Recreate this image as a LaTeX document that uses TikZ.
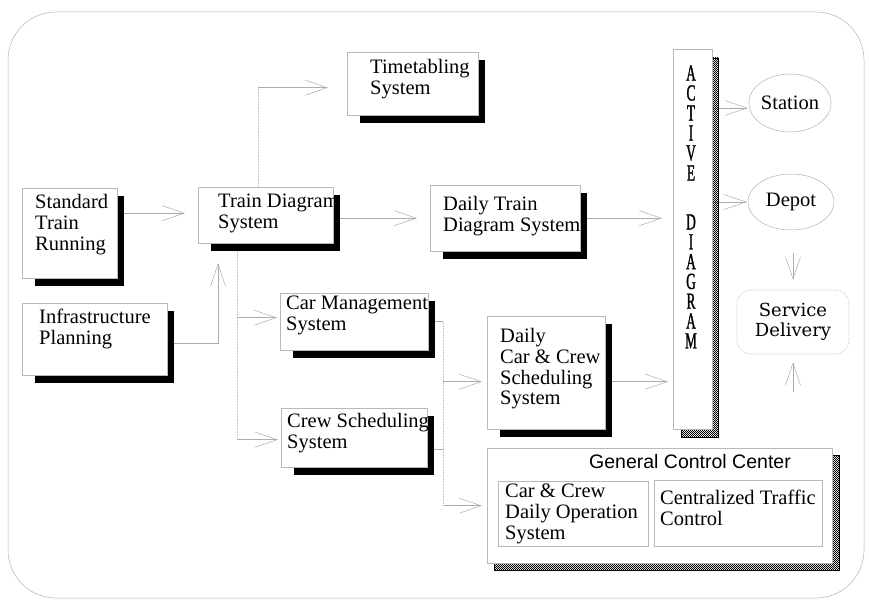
\documentclass[tikz,border=0pt]{standalone}
\usepackage{fontspec}
\setmainfont{Liberation Serif}
\newfontfamily\gccfont{Liberation Sans}
\newfontfamily\sdfont{DejaVu Serif}
\newfontfamily\actfont[FakeStretch=0.58,FakeBold=1.2]{Liberation Serif}
\usetikzlibrary{arrows.meta,patterns,patterns.meta,calc,shapes.geometric}
\pgfdeclarepattern{
  name=finechk,
  type=uncolored,
  bottom left={\pgfpoint{0pt}{0pt}},
  top right={\pgfpoint{2.4pt}{2.4pt}},
  tile size={\pgfpoint{2.4pt}{2.4pt}},
  code={
    \pgfpathrectangle{\pgfpoint{0pt}{0pt}}{\pgfpoint{1.2pt}{1.2pt}}
    \pgfpathrectangle{\pgfpoint{1.2pt}{1.2pt}}{\pgfpoint{1.2pt}{1.2pt}}
    \pgfusepath{fill}
  }
}
\pgfdeclarelayer{bg}
\pgfdeclarelayer{shd}
\pgfsetlayers{bg,shd,main}
\tikzset{
  sysbox/.style={draw=gray!55, line width=0.4pt, fill=white, inner sep=0pt, anchor=north west},
  shad/.style={fill=black},
  chk/.style={pattern=finechk, pattern color=black, draw=black, line width=0.5pt},
  lbl/.style={inner sep=0pt, anchor=north west, align=left, font=\fontsize{20.5}{20.8}\selectfont},
  conn/.style={draw=gray!65, line width=0.5pt, -{Straight Barb[length=22pt,width=15pt,line width=0.5pt]}},
  wire/.style={draw=gray!45, line width=0.5pt, densely dotted},
  oval/.style={ellipse, draw=gray!60, line width=0.5pt, inner sep=0pt, font=\fontsize{20.5}{20.8}\selectfont},
  actl/.style={inner sep=0pt, font=\actfont\fontsize{23}{20}\selectfont},
}
\newcommand\dropsh[1]{\fill[shad] ([shift={(13,8)}]#1.north west) rectangle ([shift={(7,8)}]#1.south east);}
\begin{document}
\begin{tikzpicture}[x=1pt,y=-1pt]
\useasboundingbox (0,0) rectangle (869,601);
\draw[gray!60, line width=0.5pt, rounded corners=48pt] (8,12) rectangle (864,598);
% system boxes
\node[sysbox, minimum width=131pt, minimum height=63pt] (tt) at (347,52) {};
\node[sysbox, minimum width=95pt, minimum height=90pt] (std) at (22,188) {};
\node[sysbox, minimum width=135pt, minimum height=56pt] (td) at (198,187) {};
\node[sysbox, minimum width=145pt, minimum height=72pt] (ip) at (22,303) {};
\node[sysbox, minimum width=150pt, minimum height=66pt] (dt) at (430,185) {};
\node[sysbox, minimum width=148pt, minimum height=57pt] (cm) at (280,293) {};
\node[sysbox, minimum width=146pt, minimum height=59pt] (cs) at (281,408) {};
\node[sysbox, minimum width=118pt, minimum height=113pt] (dcc) at (487,316) {};
\node[sysbox, minimum width=39pt, minimum height=380pt] (act) at (673,49) {};
\node[sysbox, minimum width=345pt, minimum height=115pt] (gcc) at (487,448) {};
\node[sysbox, minimum width=150pt, minimum height=65pt] (g1) at (498,481) {};
\node[sysbox, minimum width=168pt, minimum height=66pt] (g2) at (654,480) {};
% labels
\node[lbl] (tt-l) at (370,59) {Timetabling\\System};
\node[lbl] (std-l) at (35,194) {Standard\\Train\\Running};
\node[lbl] (td-l) at (218,194) {Train Diagram\\System};
\node[lbl] (ip-l) at (39,309) {Infrastructure\\Planning};
\node[lbl] (dt-l) at (443,196) {Daily Train\\Diagram System};
\node[lbl] (cm-l) at (286,296) {Car Management\\System};
\node[lbl] (cs-l) at (287,413) {Crew Scheduling\\System};
\node[lbl] (dcc-l) at (500,328) {Daily\\Car \& Crew\\Scheduling\\System};
\node[lbl] (g1-l) at (505,484) {Car \& Crew\\Daily Operation\\System};
\node[lbl] (g2-l) at (660,490) {Centralized Traffic\\Control};
\node[inner sep=0pt, font=\gccfont\fontsize{19.5}{20}\selectfont] (gcc-t) at (690,462) {General Control Center};
\foreach \l [count=\i] in {A,C,T,I,V,E}
  \node[actl] (act-a\i) at (691,{73+20*(\i-1)}) {\l};
\foreach \l [count=\i] in {D,I,A,G,R,A,M}
  \node[actl] (act-d\i) at (691,{222+19.8*(\i-1)}) {\l};
% outputs
\node[oval, minimum width=81pt, minimum height=58pt] (st) at (790,103) {Station};
\node[oval, minimum width=86pt, minimum height=56pt] (dp) at (791,202) {Depot};
\node[draw=gray!60, densely dotted, line width=0.6pt, rounded corners=14pt, minimum width=112pt, minimum height=64pt, align=center, inner sep=0pt, font=\sdfont\fontsize{18}{20}\selectfont] (sd) at (793,322) {Service\\Delivery};
\coordinate (sdin) at (793,392);
% shadows
\begin{pgfonlayer}{shd}
\dropsh{tt}\dropsh{std}\dropsh{td}\dropsh{ip}\dropsh{dt}\dropsh{cm}\dropsh{cs}\dropsh{dcc}
\filldraw[chk] ([shift={(8,9)}]act.north west) rectangle ([shift={(6,8)}]act.south east);
\filldraw[chk] ([shift={(7,7)}]gcc.north west) rectangle ([shift={(7,7)}]gcc.south east);
\end{pgfonlayer}
% connectors
\begin{pgfonlayer}{bg}
\coordinate (ttf) at ($([xshift=60pt]td.north west |- tt.west)+(0,4)$);
\draw[wire] ([xshift=60pt]td.north west) -- (ttf);
\draw[conn, shorten >=19pt] (ttf) -- ($(tt.west)+(0,4)$);
\draw[conn, shorten >=13pt] ($(std.east |- td.west)+(0,-2)$) -- ($(td.west)+(0,-2)$);
\draw[conn, shorten >=13pt] (td.east |- dt.west) -- (dt.west);
\draw[conn, shorten >=11pt] (dt.east) -- (dt.east -| act.west);
\draw[conn, shorten >=1pt] ($(act.east |- st.west)+(0,5)$) -- ($(st.west)+(0,5)$);
\draw[conn, shorten >=1pt] (act.east |- dp.west) -- (dp.west);
\draw[conn, shorten <=23pt, shorten >=10pt] (sd.north |- dp.south) -- (sd.north);
\draw[conn, shorten >=8pt] (sdin) -- (sd.south);
\draw[conn, shorten >=20pt] ($(ip.east)+(0,4)$) -| ([xshift=20pt]td.south west);
\coordinate (tdb) at ([xshift=39pt]td.south west);
\draw[wire] (tdb) -- (tdb |- cs.west);
\draw[conn, shorten >=3pt] ($(tdb |- cm.west)+(0,-4)$) -- ($(cm.west)+(0,-4)$);
\draw[conn, shorten >=3pt] ($(tdb |- cs.west)+(0,2)$) -- ($(cs.west)+(0,2)$);
\coordinate (bus) at ([xshift=15pt]cm.east);
\draw[conn, -] (cm.east) -- (bus);
\draw[wire] (bus) -- (bus |- gcc.west);
\draw[conn, -] ($(cs.east)+(0,12)$) -- ($(bus |- cs.east)+(0,12)$);
\draw[conn, shorten >=5pt] (bus |- gcc.west) -- (gcc.west);
\draw[conn, shorten >=5pt] ($(bus |- dcc.west)+(0,9)$) -- ($(dcc.west)+(0,9)$);
\draw[conn, shorten >=5pt] ($(dcc.east)+(0,9)$) -- ($(act.west |- dcc.east)+(0,9)$);
\end{pgfonlayer}
\end{tikzpicture}
\end{document}
